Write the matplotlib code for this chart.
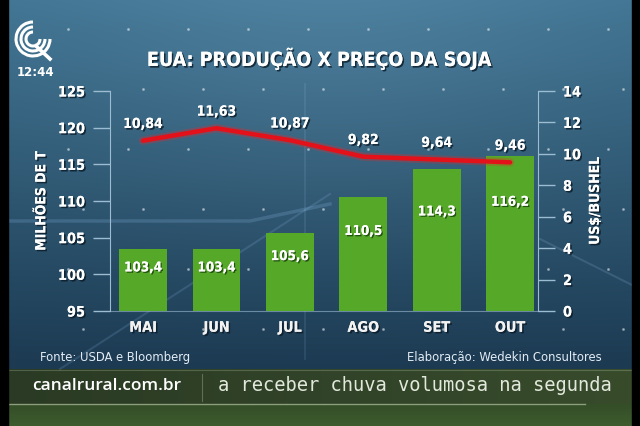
import numpy as np
import matplotlib
matplotlib.use('Agg')
import matplotlib.pyplot as plt
from matplotlib import font_manager as fm
import matplotlib.patheffects as pe
from matplotlib.patches import Arc

# ---------------- data ----------------
months = ['MAI', 'JUN', 'JUL', 'AGO', 'SET', 'OUT']
production = [103.4, 103.4, 105.6, 110.5, 114.3, 116.2]   # milhões de t
price = [10.84, 11.63, 10.87, 9.82, 9.64, 9.46]            # US$/bushel
left_ticks = [95, 100, 105, 110, 115, 120, 125]
right_ticks = [0, 2, 4, 6, 8, 10, 12, 14]
title = 'EUA: PRODUÇÃO X PREÇO DA SOJA'
left_label = 'MILHÕES DE T'
right_label = 'US$/BUSHEL'
source = 'Fonte: USDA e Bloomberg'
credit = 'Elaboração: Wedekin Consultores'
site = 'canalrural.com.br'
ticker = 'a receber chuva volumosa na segunda'
clock = '12:44'

# ---------------- font choice ----------------
entries = fm.fontManager.ttflist
names = {f.name for f in entries}
if 'Liberation Sans Narrow' in names:
    FAM, STR, K = 'Liberation Sans Narrow', 'normal', 1.0
elif any(f.name == 'DejaVu Sans' and str(f.stretch) in ('condensed', 'semi-condensed') for f in entries):
    FAM, STR, K = 'DejaVu Sans', 'condensed', 0.74
elif 'Roboto Condensed' in names:
    FAM, STR, K = 'Roboto Condensed', 'normal', 0.95
else:
    FAM, STR, K = 'Roboto', 'normal', 0.82

def F(size, weight='bold'):
    return dict(family=FAM, fontstretch=STR, fontsize=size * K, fontweight=weight)

shadow = [pe.withSimplePatchShadow(offset=(1.2, -1.2), shadow_rgbFace='#0b1a26', alpha=0.8), pe.Normal()]
gshadow = [pe.withSimplePatchShadow(offset=(1.0, -1.0), shadow_rgbFace='#1d4a0c', alpha=0.9), pe.Normal()]

W, H = 640, 427
fig = plt.figure(figsize=(6.4, 4.27), dpi=100)

# ---------------- background ----------------
bg = fig.add_axes([0, 0, 1, 1])
bg.set_xlim(0, W)
bg.set_ylim(H, 0)
bg.axis('off')
yy, xx = np.mgrid[0:H, 0:W].astype(float)
img = np.zeros((H, W, 3))
t = np.clip(yy / 368.0, 0, 1)[..., None]
top = np.array([64, 116, 146]) / 255
bot = np.array([28, 58, 82]) / 255
blue = top * (1 - t) + bot * t
rad = np.exp(-(((xx - 330) / 260) ** 2 + ((yy - 20) / 200) ** 2))[..., None]
blue = blue + 0.05 * rad
img[:] = blue
band = (yy >= 370) & (yy < 405)
gb = np.array([42, 58, 36]) / 255 + (xx / W)[..., None] * np.array([14, 18, 8]) / 255
img[band] = gb[band]
low = yy >= 405
gl = np.array([52, 78, 40]) / 255 + ((yy - 405) / 22)[..., None] * np.array([10, 14, 6]) / 255
img[low] = gl[low]
img = np.clip(img, 0, 1)
bg.imshow(img, extent=(0, W, H, 0), aspect='auto', zorder=0)

# decorative streaks and dots
bg.plot([0, 250, 330], [222, 222, 205], color='#9fd0ff', alpha=0.18, lw=2.5, zorder=1)
bg.plot([60, 330], [370, 195], color='#9fd0ff', alpha=0.15, lw=1.5, zorder=1)
bg.plot([305, 305], [85, 360], color='#b0d8ff', alpha=0.12, lw=1.2, zorder=1)
bg.plot([540, 640], [240, 290], color='#b0d8ff', alpha=0.15, lw=1.5, zorder=1)
for dx in range(60, 620, 60):
    for dy in range(30, 360, 60):
        bg.plot(dx + (dy % 120) / 4, dy, 'o', ms=1.2, color='white', alpha=0.35, zorder=1)

# ticker lines
bg.plot([8, 632], [371, 371], color='#c9d8b8', alpha=0.25, lw=0.8, zorder=1)
bg.plot([8, 585], [405, 405], color='#d4e2c0', alpha=0.55, lw=1.0, zorder=1)
bg.plot([202, 202], [375, 402], color='#aab89a', alpha=0.4, lw=0.8, zorder=1)

# black borders
bg.add_patch(plt.Rectangle((0, 0), 8, H, color='black', zorder=5))
bg.add_patch(plt.Rectangle((632, 0), 8, H, color='black', zorder=5))

# logo
for d in (34, 24, 14):
    bg.add_patch(Arc((33, 40), d, d, theta1=0, theta2=270, color='white', lw=2.2, zorder=6))
bg.plot([36, 50], [47, 60], color='white', lw=2.6, zorder=6)
bg.text(35, 72, clock, color='white', ha='center', va='center', fontsize=8.5,
        fontweight='bold', family='DejaVu Sans', zorder=6)

# titles and footers
bg.text(319, 60, title, color='white', ha='center', va='center', path_effects=shadow, zorder=6, **F(19))
bg.text(40, 358, source, color='#e3ecf4', ha='left', va='center', zorder=6, **F(12.5, 'normal'))
bg.text(602, 358, credit, color='#e3ecf4', ha='right', va='center', zorder=6, **F(12.5, 'normal'))
bg.text(32, 386, site, color='white', ha='left', va='center', fontsize=12.5,
        family='Open Sans', fontweight='semibold', zorder=6)
bg.text(218, 386, ticker, color='#e2e9dc', ha='left', va='center', fontsize=13.5,
        family='DejaVu Sans Mono', zorder=4)

# ---------------- chart ----------------
ax = fig.add_axes([110 / W, 1 - 312 / H, 428 / W, 220 / H])
ax.patch.set_alpha(0)
ax2 = ax.twinx()
x = np.arange(len(months))

spine_c = '#9cbcd2'
ax.bar(x, [v - 95 for v in production], bottom=95, width=0.65, color='#55a828', zorder=3)
ax.set_xlim(-0.45, 5.38)
ax.set_ylim(95, 125)
ax2.set_ylim(0, 14)
ax.set_yticks(left_ticks)
ax2.set_yticks(right_ticks)
ax.set_xticks(x)
ax.set_xticklabels(months, color='#f2f2f2', **F(14))
ax.tick_params(axis='x', length=0, pad=7)
ax.tick_params(axis='y', direction='out', length=12, width=1, color=spine_c, pad=6)
ax2.tick_params(axis='y', direction='out', length=12, width=1, color=spine_c, pad=6)
ax.set_yticklabels([str(v) for v in left_ticks], color='white', **F(14))
ax2.set_yticklabels([str(v) for v in right_ticks], color='white', **F(14))
for lbl in ax.get_yticklabels() + ax2.get_yticklabels() + ax.get_xticklabels():
    lbl.set_path_effects(shadow)

for a in (ax, ax2):
    for s in a.spines.values():
        s.set_visible(False)
ax.spines['left'].set_visible(True)
ax.spines['left'].set_color(spine_c)
ax.spines['bottom'].set_visible(True)
ax.spines['bottom'].set_color(spine_c)
ax.spines['bottom'].set_alpha(0.6)
ax2.spines['right'].set_visible(True)
ax2.spines['right'].set_color(spine_c)

for xi, v in zip(x, production):
    ax.text(xi, 95 + 0.7 * (v - 95), f'{v:.1f}'.replace('.', ','), color='white',
            ha='center', va='center', path_effects=gshadow, zorder=4, **F(13))

ax2.plot(x, price, color='#ff2020', lw=6, alpha=0.25, zorder=4, solid_capstyle='round')
ax2.plot(x, price, color='#e3121a', lw=3.2, zorder=5, solid_capstyle='round')
for xi, v in zip(x, price):
    ax2.annotate(f'{v:.2f}'.replace('.', ','), (xi, v), xytext=(0, 12), textcoords='offset points',
                 color='white', ha='center', va='center', path_effects=shadow, zorder=6, **F(13.5))

ax.set_ylabel(left_label, color='white', labelpad=7, path_effects=shadow, **F(13.5))
ax2.set_ylabel(right_label, color='white', rotation=90, labelpad=5, path_effects=shadow, **F(13.5))

fig.savefig('out.png', dpi=100)
